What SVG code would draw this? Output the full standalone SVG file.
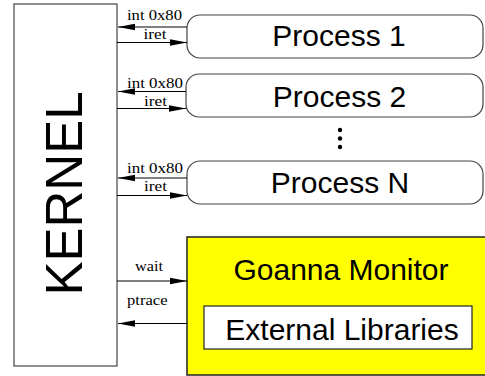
<svg xmlns="http://www.w3.org/2000/svg" width="485" height="376" viewBox="0 0 485 376">
  <style>
    .box { fill: #ffffff; stroke: #444444; stroke-width: 1.2; }
    .proc { fill: #ffffff; stroke: #444444; stroke-width: 1.2; }
    .big { font-family: "Liberation Sans", Arial, sans-serif; font-size: 30px; fill: #000000; }
    .lbl { font-family: "Liberation Serif", "Times New Roman", serif; font-size: 14px; fill: #000000; }
    .conn { stroke: #000000; stroke-width: 1; fill: none; }
  </style>
  <defs>
    <marker id="arrow" viewBox="0 0 17 8" refX="17" refY="4" markerWidth="17" markerHeight="8" markerUnits="userSpaceOnUse" orient="auto">
      <path d="M0,0.7 L17,4 L0,7.3 Z" fill="#000000"/>
    </marker>
  </defs>

  <!-- kernel column -->
  <g id="kernel">
    <rect class="box" x="14" y="4" width="103" height="362"/>
    <text class="big" style="font-size:51px" text-anchor="middle" transform="translate(82,193.5) rotate(-90)">KERNEL</text>
  </g>

  <!-- user processes -->
  <g id="process1">
    <rect class="proc" x="187" y="15" width="296" height="43" rx="13" ry="13"/>
    <text class="big" x="339" y="46" text-anchor="middle">Process 1</text>
  </g>
  <g id="process2">
    <rect class="proc" x="186" y="74" width="297" height="43" rx="13" ry="13"/>
    <text class="big" x="339.5" y="106.5" text-anchor="middle">Process 2</text>
  </g>
  <g id="ellipsis">
    <circle cx="340" cy="130" r="2.2" fill="#000000"/>
    <circle cx="340" cy="138.5" r="2.2" fill="#000000"/>
    <circle cx="340" cy="147" r="2.2" fill="#000000"/>
  </g>
  <g id="processN">
    <rect class="proc" x="187" y="161" width="296" height="43" rx="13" ry="13"/>
    <text class="big" x="340" y="193" text-anchor="middle">Process N</text>
  </g>

  <!-- monitor -->
  <g id="monitor">
    <rect x="187" y="237" width="300" height="138" fill="#ffff00" stroke="#222222" stroke-width="1.5"/>
    <text class="big" x="341" y="279.5" text-anchor="middle">Goanna Monitor</text>
  </g>
  <g id="libraries">
    <rect x="204" y="306" width="268" height="43" fill="#ffffff" stroke="#222222" stroke-width="1.2"/>
    <text class="big" x="342" y="340" text-anchor="middle">External Libraries</text>
  </g>

  <!-- connectors -->
  <g id="connectors">
    <line class="conn" x1="187" y1="27" x2="118" y2="27" marker-end="url(#arrow)"/>
    <line class="conn" x1="117" y1="42.5" x2="187" y2="42.5" marker-end="url(#arrow)"/>
    <line class="conn" x1="186" y1="91.5" x2="118" y2="91.5" marker-end="url(#arrow)"/>
    <line class="conn" x1="117" y1="108.5" x2="186" y2="108.5" marker-end="url(#arrow)"/>
    <line class="conn" x1="187" y1="178" x2="118" y2="178" marker-end="url(#arrow)"/>
    <line class="conn" x1="117" y1="195.5" x2="187" y2="195.5" marker-end="url(#arrow)"/>
    <line class="conn" x1="117" y1="281" x2="187" y2="281" marker-end="url(#arrow)"/>
    <line class="conn" x1="187" y1="323.5" x2="118" y2="323.5" marker-end="url(#arrow)"/>

    <text class="lbl" x="127" y="20" textLength="55" lengthAdjust="spacingAndGlyphs">int 0x80</text>
    <text class="lbl" x="143.5" y="39" textLength="23" lengthAdjust="spacingAndGlyphs">iret</text>
    <text class="lbl" x="127" y="87.5" textLength="56" lengthAdjust="spacingAndGlyphs">int 0x80</text>
    <text class="lbl" x="144" y="106" textLength="23" lengthAdjust="spacingAndGlyphs">iret</text>
    <text class="lbl" x="127" y="172.5" textLength="56" lengthAdjust="spacingAndGlyphs">int 0x80</text>
    <text class="lbl" x="144" y="191" textLength="23" lengthAdjust="spacingAndGlyphs">iret</text>
    <text class="lbl" x="135" y="271" textLength="28" lengthAdjust="spacingAndGlyphs">wait</text>
    <text class="lbl" x="127" y="305" textLength="40.5" lengthAdjust="spacingAndGlyphs">ptrace</text>
  </g>
</svg>
